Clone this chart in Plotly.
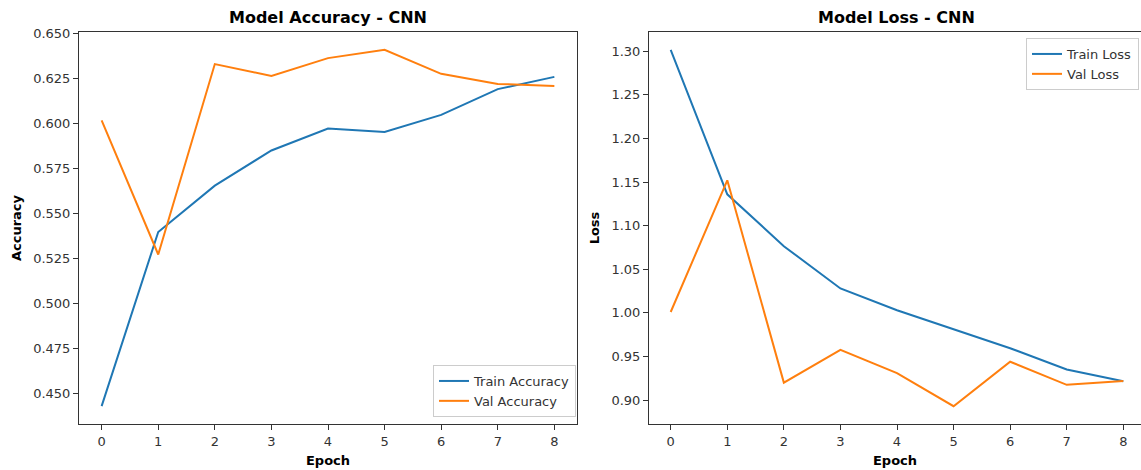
import plotly.graph_objects as go

epochs = [0, 1, 2, 3, 4, 5, 6, 7, 8]
train_acc = [0.4432, 0.5398, 0.5655, 0.5850, 0.5972, 0.5953, 0.6047, 0.6190, 0.6258]
val_acc = [0.6017, 0.5273, 0.6329, 0.6263, 0.6362, 0.6408, 0.6275, 0.6219, 0.6207]
train_loss = [1.3017, 1.1360, 1.0765, 1.0280, 1.0030, 0.9810, 0.9595, 0.9350, 0.9215]
val_loss = [1.0010, 1.1520, 0.9200, 0.9575, 0.9310, 0.8930, 0.9440, 0.9175, 0.9220]

acc_ticks = [0.450, 0.475, 0.500, 0.525, 0.550, 0.575, 0.600, 0.625, 0.650]
loss_ticks = [0.90, 0.95, 1.00, 1.05, 1.10, 1.15, 1.20, 1.25, 1.30]

BLUE = "#1f77b4"
ORANGE = "#ff7f0e"
FONT = "DejaVu Sans"

W, H = 1141, 470

def fx(px):
    return px / W

def fy(py):
    return 1 - py / H

fig = go.Figure()
fig.add_trace(go.Scatter(x=epochs, y=train_acc, mode="lines", name="Train Accuracy",
                         line=dict(color=BLUE, width=2), xaxis="x", yaxis="y", legend="legend"))
fig.add_trace(go.Scatter(x=epochs, y=val_acc, mode="lines", name="Val Accuracy",
                         line=dict(color=ORANGE, width=2), xaxis="x", yaxis="y", legend="legend"))
fig.add_trace(go.Scatter(x=epochs, y=train_loss, mode="lines", name="Train Loss",
                         line=dict(color=BLUE, width=2), xaxis="x2", yaxis="y2", legend="legend2"))
fig.add_trace(go.Scatter(x=epochs, y=val_loss, mode="lines", name="Val Loss",
                         line=dict(color=ORANGE, width=2), xaxis="x2", yaxis="y2", legend="legend2"))

def amin(a, b):
    return min(min(a), min(b))

def amax(a, b):
    return max(max(a), max(b))

acc_lo, acc_hi = amin(train_acc, val_acc), amax(train_acc, val_acc)
loss_lo, loss_hi = amin(train_loss, val_loss), amax(train_loss, val_loss)
am = (acc_hi - acc_lo) * 0.05
lm = (loss_hi - loss_lo) * 0.05

def axis_common(mirror=True):
    return dict(showline=True, mirror=mirror, linecolor="#333333", linewidth=1,
                ticks="outside", ticklen=5, tickcolor="#333333", tickwidth=1,
                showgrid=False, zeroline=False, automargin=False,
                tickfont=dict(family=FONT, size=13, color="#333333"))

# right panel is cropped at the figure edge in the reference (its right spine lies outside)
x2_left_px, x2_right_px = 649, 1141
x2_tick0, x2_tick8 = 670.7, 1123.3
px_per_epoch = (x2_tick8 - x2_tick0) / 8
x2_range = [-(x2_tick0 - x2_left_px) / px_per_epoch, 8 + (x2_right_px - x2_tick8) / px_per_epoch]

fig.update_layout(
    width=W, height=H,
    margin=dict(l=0, r=0, t=0, b=0),
    paper_bgcolor="white", plot_bgcolor="white",
    font=dict(family=FONT, color="black"),
    xaxis=dict(domain=[fx(79), fx(577)], anchor="y", range=[-0.4, 8.4],
               tickvals=epochs, title=dict(text="<b>Epoch</b>", font=dict(size=13), standoff=8),
               **axis_common()),
    yaxis=dict(domain=[fy(424), fy(32)], anchor="x", range=[acc_lo - am, acc_hi + am],
               tickvals=acc_ticks, tickformat=".3f",
               title=dict(text="<b>Accuracy</b>", font=dict(size=13), standoff=8),
               **axis_common()),
    xaxis2=dict(domain=[fx(x2_left_px), 1.0], anchor="y2", range=x2_range,
                tickvals=epochs, title=dict(text="<b>Epoch</b>", font=dict(size=13), standoff=8),
                **axis_common()),
    yaxis2=dict(domain=[fy(424), fy(32)], anchor="x2", range=[loss_lo - lm, loss_hi + lm],
                tickvals=loss_ticks, tickformat=".2f",
                title=dict(text="<b>Loss</b>", font=dict(size=13), standoff=8),
                **axis_common(mirror=False)),
    legend=dict(x=fx(576), y=fy(417), xanchor="right", yanchor="bottom",
                bgcolor="rgba(255,255,255,0.8)", bordercolor="#cccccc", borderwidth=1,
                font=dict(family=FONT, size=13, color="#333333"),
                itemwidth=30, tracegroupgap=0),
    legend2=dict(x=fx(1139), y=fy(38), xanchor="right", yanchor="top",
                 bgcolor="rgba(255,255,255,0.8)", bordercolor="#cccccc", borderwidth=1,
                 font=dict(family=FONT, size=13, color="#333333"),
                 itemwidth=30, tracegroupgap=0),
    annotations=[
        dict(text="<b>Model Accuracy - CNN</b>", x=fx(328), y=fy(18), xref="paper", yref="paper",
             showarrow=False, font=dict(family=FONT, size=16, color="black"),
             xanchor="center", yanchor="middle"),
        dict(text="<b>Model Loss - CNN</b>", x=fx(897), y=fy(18), xref="paper", yref="paper",
             showarrow=False, font=dict(family=FONT, size=16, color="black"),
             xanchor="center", yanchor="middle"),
    ],
)

fig.write_html("out.html")
